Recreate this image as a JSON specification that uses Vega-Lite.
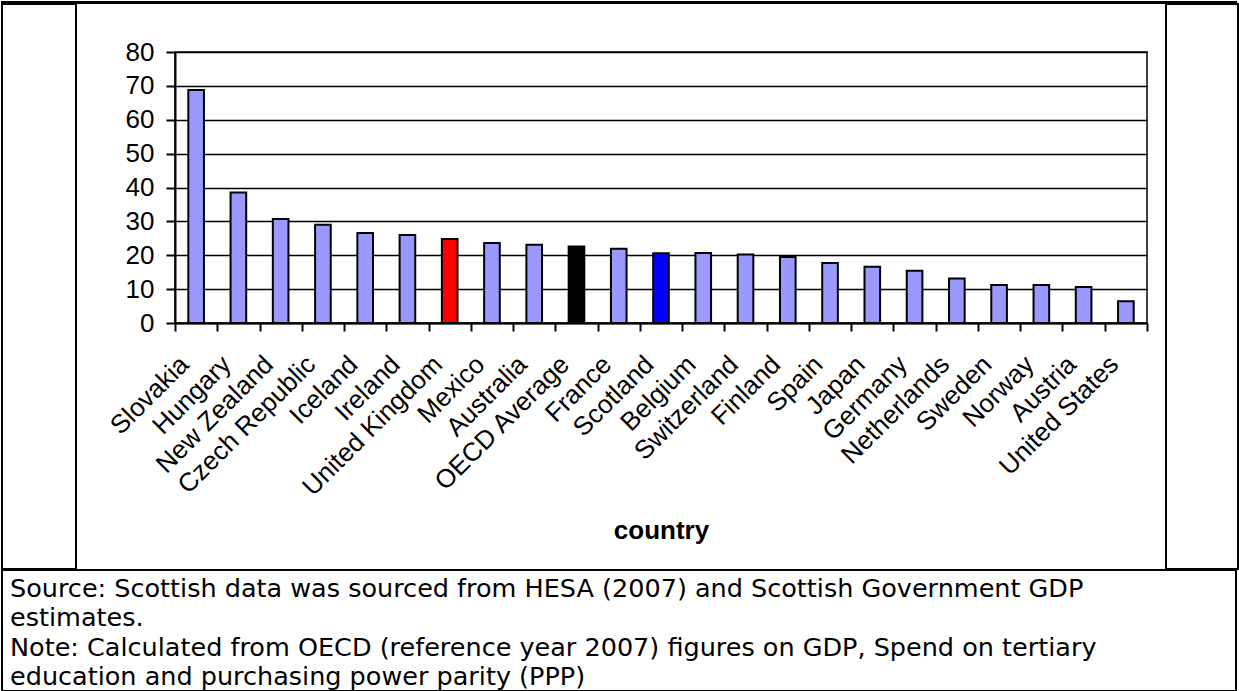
{
  "$schema": "https://vega.github.io/schema/vega-lite/v6.json",
  "background": "white",
  "padding": {"left": 1, "top": 1, "right": 0, "bottom": 0},
  "config": {
    "font": "Liberation Sans",
    "view": {"stroke": null},
    "concat": {"spacing": 0}
  },
  "datasets": {
    "spend": [
      {"country": "Slovakia", "spend": 68.8, "group": "OECD country"},
      {"country": "Hungary", "spend": 38.5, "group": "OECD country"},
      {"country": "New Zealand", "spend": 30.7, "group": "OECD country"},
      {"country": "Czech Republic", "spend": 29.0, "group": "OECD country"},
      {"country": "Iceland", "spend": 26.6, "group": "OECD country"},
      {"country": "Ireland", "spend": 26.0, "group": "OECD country"},
      {"country": "United Kingdom", "spend": 24.8, "group": "United Kingdom"},
      {"country": "Mexico", "spend": 23.6, "group": "OECD country"},
      {"country": "Australia", "spend": 23.1, "group": "OECD country"},
      {"country": "OECD Average", "spend": 22.6, "group": "OECD Average"},
      {"country": "France", "spend": 21.9, "group": "OECD country"},
      {"country": "Scotland", "spend": 20.6, "group": "Scotland"},
      {"country": "Belgium", "spend": 20.7, "group": "OECD country"},
      {"country": "Switzerland", "spend": 20.2, "group": "OECD country"},
      {"country": "Finland", "spend": 19.5, "group": "OECD country"},
      {"country": "Spain", "spend": 17.7, "group": "OECD country"},
      {"country": "Japan", "spend": 16.6, "group": "OECD country"},
      {"country": "Germany", "spend": 15.4, "group": "OECD country"},
      {"country": "Netherlands", "spend": 13.1, "group": "OECD country"},
      {"country": "Sweden", "spend": 11.2, "group": "OECD country"},
      {"country": "Norway", "spend": 11.2, "group": "OECD country"},
      {"country": "Austria", "spend": 10.6, "group": "OECD country"},
      {"country": "United States", "spend": 6.4, "group": "OECD country"}
    ],
    "notes": [
      {"line": 1, "text": "Source: Scottish data was sourced from HESA (2007) and Scottish Government GDP"},
      {"line": 2, "text": "estimates."},
      {"line": 3, "text": "Note: Calculated from OECD (reference year 2007) figures on GDP, Spend on tertiary"},
      {"line": 4, "text": "education and purchasing power parity (PPP)"}
    ]
  },
  "spacing": -2,
  "vconcat": [
    {
      "width": 1234,
      "height": 1,
      "data": {"values": []},
      "mark": "point",
      "encoding": {},
      "view": {"stroke": "black", "strokeWidth": 2}
    },
    {
      "spacing": 16,
      "hconcat": [
        {
          "width": 74,
          "height": 565,
          "data": {"values": []},
          "mark": "point",
          "encoding": {},
          "view": {"stroke": "black", "strokeWidth": 2}
        },
        {
          "spacing": 33,
          "vconcat": [
            {
              "width": 1,
              "height": 1,
              "data": {"values": []},
              "mark": "point",
              "encoding": {}
            },
            {
              "width": 972,
              "height": 271,
              "data": {"name": "spend"},
              "view": {"stroke": "black", "strokeWidth": 1.5},
              "mark": {"type": "bar", "stroke": "black", "strokeWidth": 2, "width": {"band": 0.37}},
              "encoding": {
                "x": {
                  "field": "country",
                  "type": "nominal",
                  "sort": null,
                  "scale": {"paddingInner": 0, "paddingOuter": 0},
                  "axis": {
                    "title": "country",
                    "titleFontSize": 26,
                    "titleFontWeight": "bold",
                    "titleColor": "black",
                    "titlePadding": 17,
                    "labelAngle": -45,
                    "labelAlign": "right",
                    "labelBaseline": "middle",
                    "labelFontSize": 26,
                    "labelColor": "black",
                    "labelLimit": 0,
                    "labelPadding": 29,
                    "labelOffset": -12,
                    "tickBand": "extent",
                    "tickColor": "black",
                    "tickSize": 8,
                    "tickWidth": 2,
                    "domainColor": "black",
                    "domainWidth": 2,
                    "grid": false
                  }
                },
                "y": {
                  "field": "spend",
                  "type": "quantitative",
                  "scale": {"domain": [0, 80], "nice": false},
                  "axis": {
                    "title": null,
                    "values": [0, 10, 20, 30, 40, 50, 60, 70, 80],
                    "labelFontSize": 26,
                    "labelColor": "black",
                    "labelPadding": 12,
                    "tickColor": "black",
                    "tickSize": 9,
                    "tickWidth": 2,
                    "domainColor": "black",
                    "domainWidth": 2,
                    "grid": true,
                    "gridColor": "black",
                    "gridWidth": 1.6,
                    "minExtent": 81
                  }
                },
                "color": {
                  "field": "group",
                  "type": "nominal",
                  "scale": {
                    "domain": ["OECD country", "United Kingdom", "OECD Average", "Scotland"],
                    "range": ["#9999ff", "#ff0000", "#000000", "#0000ff"]
                  },
                  "legend": null
                }
              }
            }
          ]
        },
        {
          "width": 72,
          "height": 565,
          "data": {"values": []},
          "mark": "point",
          "encoding": {},
          "view": {"stroke": "black", "strokeWidth": 2}
        }
      ]
    },
    {
      "width": 1234,
      "height": 121,
      "data": {"name": "notes"},
      "view": {"stroke": "black", "strokeWidth": 2},
      "mark": {"type": "text", "align": "left", "baseline": "middle", "font": "DejaVu Sans", "fontSize": 25.5, "color": "black", "dx": 8},
      "encoding": {
        "x": {"datum": 0, "type": "quantitative", "scale": {"domain": [0, 1]}, "axis": null},
        "y": {"field": "line", "type": "ordinal", "scale": {"padding": 0.563, "align": 0.58}, "axis": null},
        "text": {"field": "text"}
      }
    }
  ]
}
